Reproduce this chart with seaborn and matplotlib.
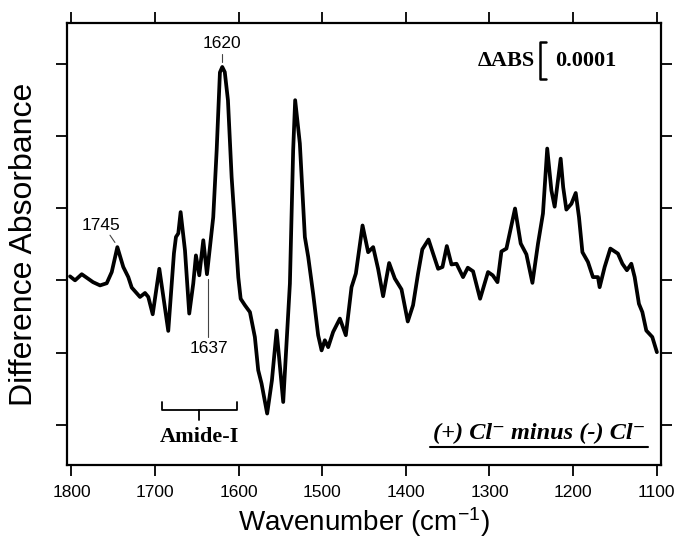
import numpy as np
import pandas as pd
import matplotlib
matplotlib.use("Agg")
import matplotlib.pyplot as plt
import seaborn as sns

# ---- data (difference absorbance in units of 1e-4) ----
wavenumber = [1801.7, 1795.7, 1787.7, 1774.2, 1765.8, 1757.8, 1751.8, 1745.1, 1738.0, 1732.0,
              1727.9, 1718.0, 1712.0, 1708.1, 1702.8, 1694.9, 1684.2, 1677.4, 1675.0, 1672.2,
              1669.4, 1664.2, 1659.1, 1654.3, 1651.1, 1647.1, 1642.3, 1637.9, 1630.4, 1626.3,
              1622.4, 1619.6, 1616.6, 1612.8, 1608.4, 1604.4, 1600.4, 1597.6, 1592.5, 1586.5,
              1580.6, 1576.6, 1572.6, 1565.9, 1560.2, 1554.6, 1546.7, 1538.7, 1534.8, 1532.4,
              1526.8, 1520.8, 1516.8, 1510.9, 1504.9, 1500.8, 1496.9, 1492.9, 1487.0, 1478.9,
              1471.8, 1465.0, 1459.8, 1451.8, 1445.1, 1439.1, 1433.2, 1427.2, 1420.0, 1413.2,
              1405.2, 1397.7, 1391.4, 1385.4, 1380.3, 1372.9, 1367.4, 1361.4, 1356.2, 1351.0,
              1345.4, 1339.4, 1331.6, 1325.9, 1319.6, 1311.2, 1301.7, 1296.1, 1290.4, 1285.7,
              1279.7, 1269.4, 1262.6, 1255.8, 1248.6, 1241.9, 1236.0, 1230.9, 1225.9, 1222.0,
              1214.8, 1211.8, 1208.0, 1202.0, 1196.8, 1192.9, 1188.8, 1182.2, 1176.2, 1170.2,
              1168.2, 1162.2, 1155.4, 1146.3, 1141.0, 1135.6, 1130.3, 1126.3, 1121.2, 1117.1,
              1112.4, 1105.2, 1099.7]
diff_abs = [0.11, 0.00, 0.17, -0.05, -0.14, -0.08, 0.23, 0.92, 0.37, 0.09,
            -0.20, -0.46, -0.35, -0.46, -0.94, 0.32, -1.40, 0.75, 1.20, 1.30,
            1.89, 0.83, -0.92, -0.09, 0.69, 0.14, 1.11, 0.17, 1.75, 3.60,
            5.76, 5.91, 5.77, 4.99, 2.86, 1.48, 0.08, -0.51, -0.69, -0.88,
            -1.57, -2.49, -2.86, -3.69, -2.77, -1.39, -3.37, -0.09, 3.60, 4.99,
            3.79, 1.20, 0.65, -0.37, -1.52, -1.94, -1.66, -1.85, -1.43, -1.06,
            -1.52, -0.19, 0.19, 1.52, 0.78, 0.92, 0.32, -0.44, 0.48, 0.05,
            -0.25, -1.14, -0.69, 0.19, 0.86, 1.13, 0.74, 0.32, 0.37, 0.95,
            0.44, 0.46, 0.09, 0.35, 0.25, -0.51, 0.23, 0.14, -0.05, 0.80,
            0.88, 1.99, 1.02, 0.72, -0.07, 1.02, 1.85, 3.65, 2.49, 2.04,
            3.37, 2.58, 1.96, 2.12, 2.42, 1.75, 0.78, 0.51, 0.09, 0.09,
            -0.19, 0.37, 0.88, 0.74, 0.46, 0.28, 0.46, 0.09, -0.65, -0.88,
            -1.39, -1.57, -1.99]

x_ticks = [1800, 1700, 1600, 1500, 1400, 1300, 1200, 1100]
y_ticks = [-4, -2, 0, 2, 4, 6]
peak_1745 = 1745
peak_1620 = 1620
peak_1637 = 1637
amide_range = [1692, 1602]
scale_bar_label = "0.0001"
scale_bar_height = 1.0  # 0.0001 in plot units

sns.set_theme(style="white")
plt.rcParams["font.family"] = ["Liberation Sans", "DejaVu Sans"]
plt.rcParams["mathtext.fontset"] = "custom"
plt.rcParams["mathtext.rm"] = "Liberation Sans"
plt.rcParams["mathtext.it"] = "Liberation Sans:italic"

fig = plt.figure(figsize=(6.79, 5.46), dpi=100)
ax = fig.add_axes([0.0987, 0.148, 0.8743, 0.810])

df = pd.DataFrame({"wn": wavenumber, "dA": diff_abs})
sns.lineplot(data=df, x="wn", y="dA", sort=False, estimator=None,
             color="black", linewidth=2.7, ax=ax)
for ln in ax.get_lines():
    ln.set_solid_joinstyle("round")
    ln.set_solid_capstyle("round")

ax.set_xlim(1805.3, 1095.2)
ax.set_ylim(-5.12, 7.13)
ax.set_xticks(x_ticks)
ax.set_xticklabels([str(v) for v in x_ticks])
ax.set_yticks(y_ticks)
ax.set_yticklabels([])
ax.tick_params(axis="both", direction="out", length=8, width=1.3, color="black",
               top=True, right=True, bottom=True, left=True,
               labeltop=False, labelright=False, labelleft=False,
               labelsize=12.5, pad=6, labelcolor="black")
for s in ax.spines.values():
    s.set_visible(True)
    s.set_color("black")
    s.set_linewidth(1.6)

ax.set_xlabel("Wavenumber (cm$^{-1}$)", fontsize=20, color="black", labelpad=4)
ax.set_ylabel("Difference Absorbance", fontsize=23, color="black", labelpad=12)

# peak annotations
ann_kw = dict(fontsize=12.5, color="black", ha="center", va="center")
ax.text(peak_1620, 6.55, str(peak_1620), **ann_kw)
ax.plot([peak_1620, peak_1620], [6.27, 6.05], color="#444444", lw=0.8)
ax.text(1765.0, 1.53, str(peak_1745), **ann_kw)
ax.plot([1753.9, 1748.0], [1.25, 1.05], color="#444444", lw=0.8)
ax.text(1635.6, -1.90, str(peak_1637), **ann_kw)
ax.plot([1636.4, 1636.4], [0.05, -1.57], color="#444444", lw=0.8)

# Amide-I bracket
amid_mid = (amide_range[0] + amide_range[1]) / 2
ax.plot([amide_range[0], amide_range[0], amide_range[1], amide_range[1]],
        [-3.37, -3.60, -3.60, -3.37], color="black", lw=1.3)
ax.plot([amid_mid, amid_mid], [-3.60, -3.88], color="black", lw=1.3)
ax.text(amid_mid, -4.35, "Amide-I", fontsize=16, fontweight="bold",
        family=["Liberation Serif", "DejaVu Serif"], ha="center", va="center", color="black")

# scale bar
ax.text(1245.9, 6.08, "\u0394ABS", fontsize=16, fontweight="bold",
        family=["Liberation Serif", "DejaVu Serif"], ha="right", va="center", color="black")
ax.plot([1232, 1240, 1240, 1232], [5.59 + scale_bar_height, 5.59 + scale_bar_height, 5.59, 5.59],
        color="black", lw=1.8)
ax.text(1222, 6.08, scale_bar_label, fontsize=16, fontweight="bold",
        family=["Liberation Serif", "DejaVu Serif"], ha="left", va="center", color="black")

# condition label
ax.text(0.795, 0.072, "(+) Cl\u207b minus (-) Cl\u207b", transform=ax.transAxes,
        fontsize=17.5, fontweight="bold", fontstyle="italic",
        family=["Liberation Serif", "DejaVu Serif"], ha="center", va="center", color="black")
ax.plot([0.611, 0.978], [0.0414, 0.0414], transform=ax.transAxes, color="black", lw=1.5)

fig.savefig("out.png", dpi=100)
